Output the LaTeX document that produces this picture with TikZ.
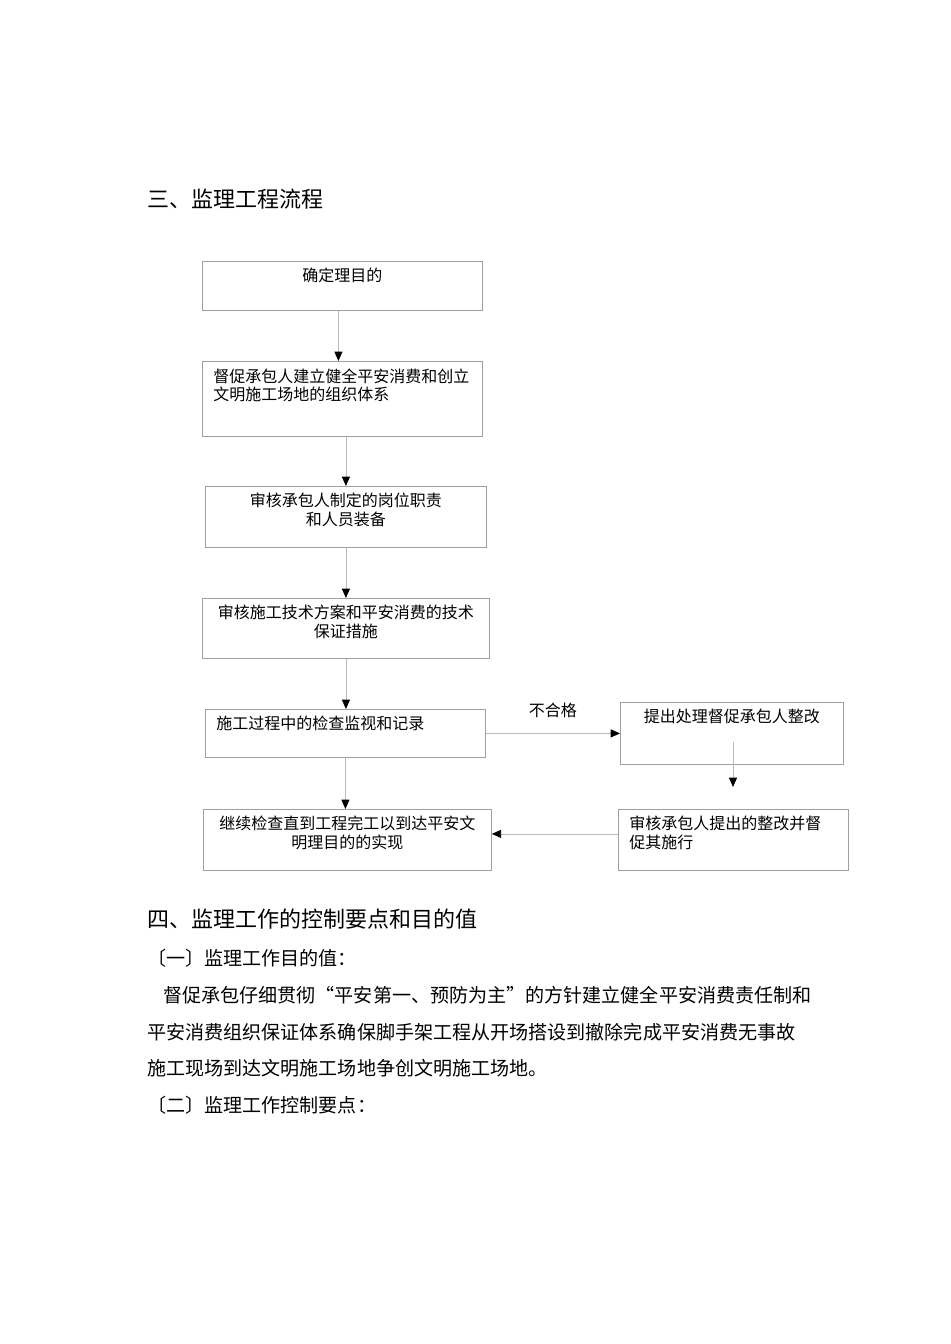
\documentclass[tikz,border=0pt]{standalone}
\usepackage{fontspec}
\newfontfamily\cjk{Noto Sans CJK SC}
\usepackage{tikz}
\usetikzlibrary{arrows.meta}

\newdimen\unitpx
\unitpx=0.75pt
% box contents: [alignment] width, height (px), text
\newcommand{\boxtext}[4][\centering]{%
  \parbox[b][#3\unitpx][t]{#2\unitpx}{\vspace*{7\unitpx}#1#4}}

\begin{document}
\begin{tikzpicture}[
    x=0.75pt, y=-0.75pt,
    font=\cjk\fontsize{12pt}{14pt}\selectfont,
    stage/.style={draw=gray!75, line width=0.6pt, anchor=north west,
        inner xsep=8.25pt, inner ysep=0pt},
    link/.style={draw=gray!55, line width=0.6pt,
        -{Triangle[color=black, width=6pt, length=7pt]}},
    heading/.style={anchor=west, inner sep=0pt,
        font=\cjk\fontsize{16.5pt}{20pt}\selectfont},
    body/.style={anchor=west, inner sep=0pt,
        font=\cjk\fontsize{14.3pt}{18pt}\selectfont}
]
\useasboundingbox (0,0) rectangle (950,1344);

\node[heading] (sec3) at (147,199) {三、监理工程流程};

% flow boxes
\node[stage] (target) at (202,261) {\boxtext{258}{49}{确定理目的}};
\node[stage] (org) at (202,361)
    {\boxtext[\raggedright]{258}{75}{督促承包人建立健全平安消费和创立\\文明施工场地的组织体系}};
\node[stage] (duty) at (205,486)
    {\boxtext{259}{61}{审核承包人制定的岗位职责\\和人员装备}};
\node[stage] (plan) at (202,598)
    {\boxtext{265}{60}{审核施工技术方案和平安消费的技术\\保证措施}};
\node[stage] (check) at (205,709)
    {\boxtext[\raggedright]{258}{48}{施工过程中的检查监视和记录}};
\node[stage] (finish) at (203,809)
    {\boxtext{266}{61}{继续检查直到工程完工以到达平安文\\明理目的的实现}};
\node[stage] (rectify) at (620,702)
    {\boxtext{201}{62}{提出处理督促承包人整改}};
\node[stage] (review) at (618,809)
    {\boxtext[\raggedright]{208}{61}{审核承包人提出的整改并督\\促其施行}};

% connectors
\draw[link] ([xshift=-3pt]target.south) -- ([xshift=-3pt]target.south |- org.north);
\draw[link] (org.south -| duty.north) -- (duty.north);
\draw[link] (duty) -- (plan);
\draw[link] (plan.south) -- (plan.south |- check.north);
\draw[link] (check.south) -- (check.south |- finish.north);
\draw[link] (check.east) -- (check.east -| rectify.west)
    node[midway, above=8pt] (fail) {不合格};
\coordinate (fixstart) at (733,742);
\coordinate (fixend) at (733,787);
\draw[link] (fixstart) -- (fixend);
\draw[link] ([yshift=4.5pt]review.west) -- ([yshift=4.5pt]review.west -| finish.east);

% text below the chart
\node[heading] (sec4) at (147,919) {四、监理工作的控制要点和目的值};
\node[body] (item1) at (147,958) {〔一〕监理工作目的值：};
\node[body] (para1) at (163,995)
    {督促承包仔细贯彻“平安第一、预防为主”的方针建立健全平安消费责任制和};
\node[body] (para2) at (147,1032)
    {平安消费组织保证体系确保脚手架工程从开场搭设到撤除完成平安消费无事故};
\node[body] (para3) at (147,1068) {施工现场到达文明施工场地争创文明施工场地。};
\node[body] (item2) at (147,1105) {〔二〕监理工作控制要点：};

\end{tikzpicture}
\end{document}
